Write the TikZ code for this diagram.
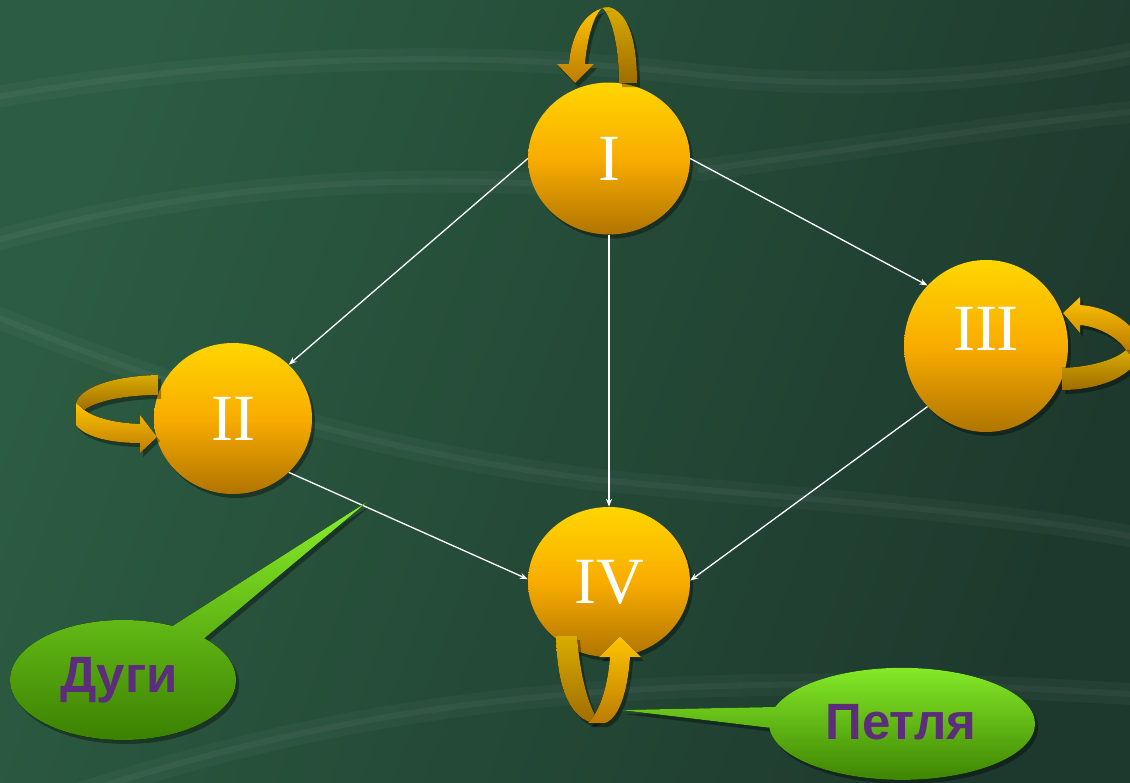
\documentclass[tikz,border=0pt]{standalone}
\usepackage{fontspec}
\setmainfont{Liberation Serif}
\newfontfamily\calloutfont{Liberation Sans}
\usetikzlibrary{shapes.geometric,shadows,arrows.meta}

\definecolor{bgL}{HTML}{2C5C42}
\definecolor{bgR}{HTML}{1D392D}
\definecolor{nodetop}{HTML}{FFD600}
\definecolor{nodemid}{HTML}{F9AC00}
\definecolor{nodebot}{HTML}{B07400}
\definecolor{ribbonA}{HTML}{FFC400}
\definecolor{ribbonB}{HTML}{BC7C00}
\definecolor{ribbonC}{HTML}{D8AC00}
\definecolor{ribbonD}{HTML}{A06C00}
\definecolor{bubbleA}{HTML}{88F02A}
\definecolor{bubbleB}{HTML}{3A7E00}
\definecolor{purp}{HTML}{5C2D7A}

\begin{document}
\begin{tikzpicture}[x=1pt,y=-1pt,
  softshadow/.style={drop shadow={shadow xshift=3pt, shadow yshift=-4pt, opacity=0.35, fill=black}},
  vertex/.style={ellipse, inner sep=0pt, top color=nodetop, bottom color=nodebot,
    middle color=nodemid, text=white, font=\fontsize{66}{66}\selectfont, softshadow},
  edge/.style={draw=white, line width=1.3pt, -{Stealth[length=8pt,width=6pt]}},
  ribbonfront/.style={top color=ribbonA, bottom color=ribbonB, softshadow},
  ribbonback/.style={top color=ribbonC, bottom color=ribbonD, softshadow},
  bubble/.style={top color=bubbleA, bottom color=bubbleB, softshadow},
  bubbletext/.style={font=\calloutfont\bfseries\fontsize{51}{51}\selectfont, text=purp},
  streak/.style={white, line width=22pt, opacity=0.03, line cap=round},
  thinstreak/.style={white, line width=6pt, opacity=0.04, line cap=round}]

\useasboundingbox (0,0) rectangle (1130,782);
\clip (0,0) rectangle (1130,782);

% background
\shade[left color=bgL, right color=bgR, shading angle=70] (0,0) rectangle (1130,782);
\foreach \s in {streak,thinstreak}{
  \draw[\s] (-20,100) .. controls (200,60) and (450,45) .. (700,75) .. controls (900,95) and (1050,70) .. (1150,50);
  \draw[\s] (-20,245) .. controls (120,205) and (300,170) .. (560,185);
  \draw[\s] (-20,310) .. controls (150,380) and (350,450) .. (600,480) .. controls (800,500) and (1000,510) .. (1150,540);
  \draw[\s] (60,800) .. controls (300,720) and (500,690) .. (760,685) .. controls (950,682) and (1050,690) .. (1150,695);
  \draw[\s] (700,170) .. controls (850,150) and (1000,125) .. (1150,110);
}

% graph vertices
\node[vertex, minimum width=162pt, minimum height=152pt] (I) at (609,158.5) {I};
\node[vertex, minimum width=158pt, minimum height=151pt] (II) at (233,418.5) {II};
\node[vertex, minimum width=164pt, minimum height=172pt, text height=44pt, text depth=36pt] (III) at (986,346) {III};
\node[vertex, minimum width=162pt, minimum height=150pt] (IV) at (609,582) {IV};

% arcs
\draw[edge] (I.west) -- (II.44);
\draw[edge] (I.east) -- (III.134);
\draw[edge] (I.south) -- (IV.north);
\draw[edge] (II.316) -- (IV.178);
\draw[edge] (III.226) -- (IV.1);

% loop above I
\fill[ribbonback] (619,83) .. controls (619,45) and (611,14) .. (602,8)
  .. controls (605,7) and (607,7) .. (609,7) .. controls (628,12) and (637,40) .. (637,83) -- cycle;
\fill[ribbonfront] (609,7) .. controls (585,9) and (571,35) .. (569,64) -- (557,64) -- (575,83)
  -- (594,64) -- (585,64) .. controls (587,38) and (594,15) .. (602,8) -- cycle;

% loop left of II
\fill[ribbonback] (158,375) .. controls (112,376) and (80,388) .. (76,403) -- (84,410)
  .. controls (98,400) and (128,395) .. (158,395) -- cycle;
\fill[ribbonfront] (76,403) -- (84,410) .. controls (95,418) and (115,423) .. (140,424)
  -- (140,415) -- (157,437) -- (140,453) -- (140,443)
  .. controls (110,443) and (85,437) .. (76,425) -- cycle;

% loop right of III
\fill[ribbonback] (1062,368) .. controls (1090,367) and (1115,360) .. (1126,350) -- (1140,350)
  .. controls (1138,375) and (1100,390) .. (1062,390) -- cycle;
\fill[ribbonfront] (1080,297) -- (1063,313) -- (1080,333) -- (1080,325)
  .. controls (1100,327) and (1118,338) .. (1126,350) -- (1140,350)
  .. controls (1140,325) and (1110,307) .. (1080,305) -- cycle;

% loop below IV
\fill[ribbonback] (556,636) -- (577,636) .. controls (580,675) and (588,705) .. (598,720)
  -- (592,723) .. controls (566,715) and (557,680) .. (556,636) -- cycle;
\fill[ribbonfront] (588,723) .. controls (600,712) and (608,685) .. (610,657) -- (599,657)
  -- (620,636) -- (641,657) -- (630,657) .. controls (628,688) and (620,718) .. (605,723) -- cycle;

% callouts
\coordinate (arcstip) at (367,502);
\coordinate (looptip) at (621,710);
\fill[bubble] (204.3,638.3) arc[start angle=-44, end angle=296, x radius=113, y radius=60]
  -- (arcstip) -- cycle;
\node[bubbletext, anchor=base] (arcs) at (119,692) {Дуги};
\fill[bubble] (775.2,707.0) arc[start angle=197.5, end angle=536, x radius=133, y radius=56]
  -- (looptip) -- cycle;
\node[bubbletext, anchor=base] (loop) at (901,739) {Петля};
\end{tikzpicture}
\end{document}
